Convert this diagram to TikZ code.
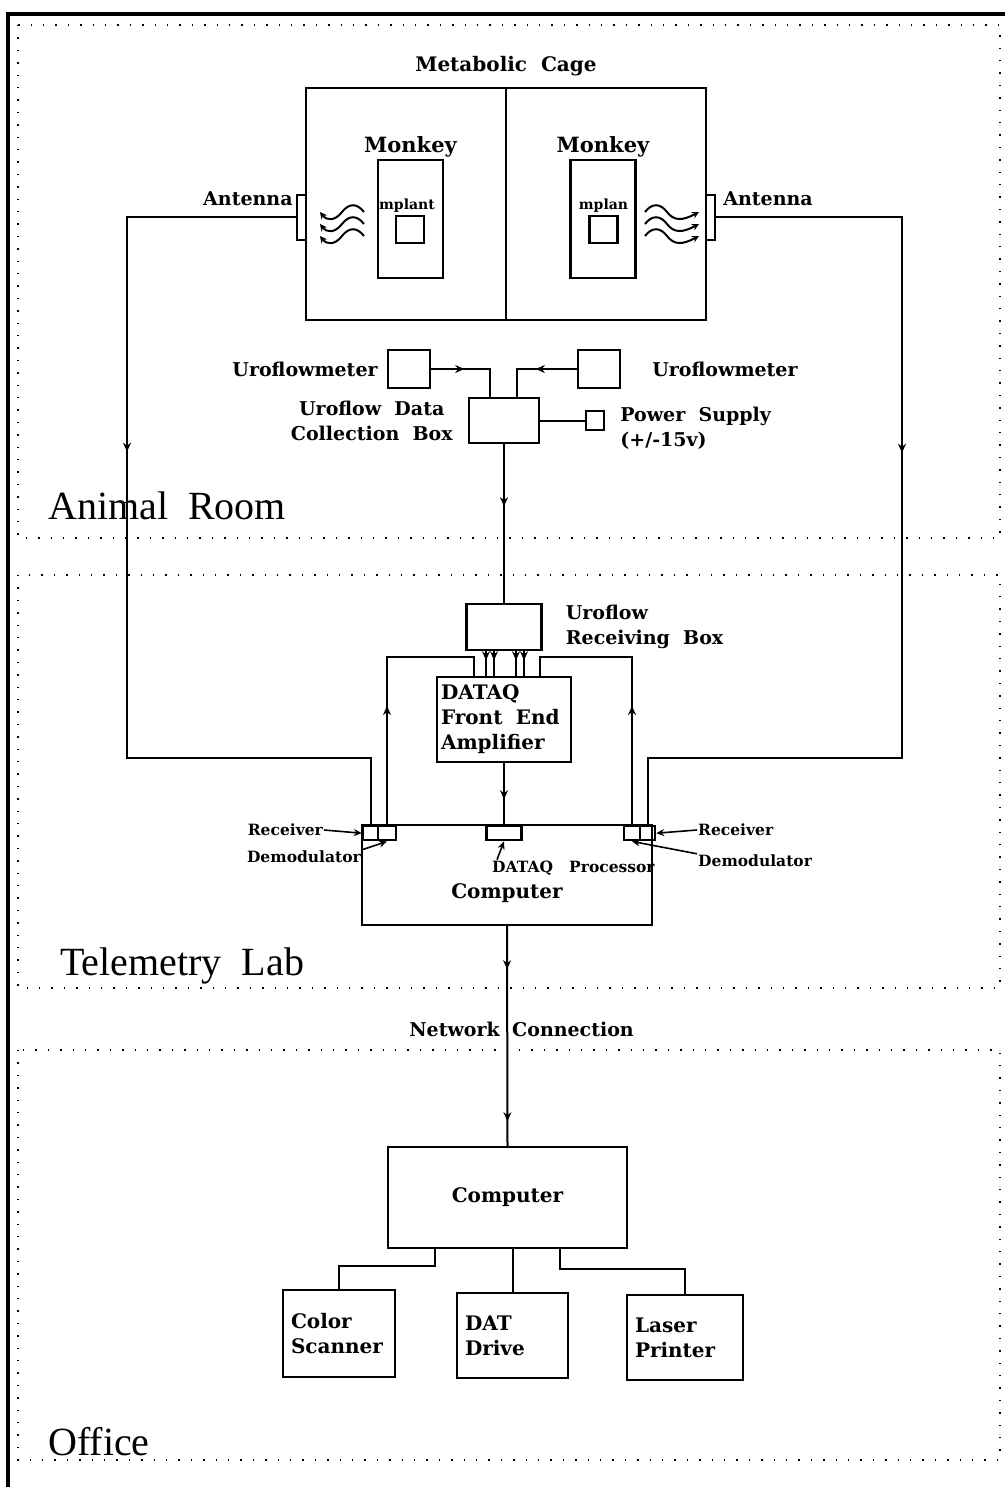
\documentclass[tikz,border=0pt]{standalone}
\usepackage{fontspec}
\setmainfont{DejaVu Serif}
\newfontfamily\roomfont{Liberation Serif}
\usetikzlibrary{positioning,arrows.meta,decorations.markings}

\tikzset{
  box/.style={draw, line width=2.4pt, inner sep=0pt, font=\bfseries\fontsize{20}{25}\selectfont},
  wire/.style={line width=2pt},
  flow/.style={postaction={decorate}, decoration={markings,
      mark=at position #1 with {\arrow{Stealth[length=9pt,width=8pt]}}}},
  lbl/.style={font=\bfseries\fontsize{19}{25}\selectfont, inner sep=1pt},
  tag/.style={font=\bfseries\fontsize{15.5}{17}\selectfont, inner sep=1pt},
  room/.style={font=\roomfont\fontsize{40}{44}\selectfont, inner sep=0pt},
  zone/.style={line width=1.4pt, dash pattern=on 1.4pt off 11pt},
  pointer/.style={line width=1.6pt, -{Stealth[length=8pt,width=7pt]}},
  wave/.style={line width=2pt, -{Stealth[length=7pt,width=7pt]}}
}

\begin{document}
\begin{tikzpicture}[x=1pt, y=-1pt]
\useasboundingbox (0,0) rectangle (1005,1487);

% frame and rooms
\draw[line width=3.5pt] (8,1487) -- (8,14) -- (1005,14);
\draw[zone] (18,25) rectangle (1000,538);
\draw[zone] (18,575) rectangle (1000,988);
\draw[zone] (18,1050) rectangle (1000,1460);
\node[room, anchor=base west] (roomA) at (48,519) {Animal\ \ Room};
\node[room, anchor=base west] (roomT) at (60,975) {Telemetry\ \ Lab};
\node[room, anchor=base west] (roomO) at (48,1455) {Office};

% metabolic cage
\node[box, minimum width=400pt, minimum height=232pt] (cage) at (506,204) {};
\draw[wire] (cage.north) -- (cage.south);
\node[lbl, font=\bfseries\fontsize{20}{25}\selectfont, above=10pt of cage] (cagelbl) {Metabolic\ \ Cage};

\node[box, minimum width=65pt, minimum height=118pt] (monkeyL) at (410.5,219) {};
\node[box, minimum width=65pt, minimum height=118pt] (monkeyR) at (603,219) {};
\node[lbl, font=\bfseries\fontsize{21}{25}\selectfont, above=0pt of monkeyL] {Monkey};
\node[lbl, font=\bfseries\fontsize{21}{25}\selectfont, above=0pt of monkeyR] {Monkey};
\node[box, minimum width=28pt, minimum height=27pt] (implantL) at (410,229.5) {};
\node[box, minimum width=28pt, minimum height=27pt] (implantR) at (603.5,229.5) {};
\node[tag, font=\bfseries\fontsize{14}{16}\selectfont, above=1pt of implantL, xshift=-3pt] {mplant};
\node[tag, font=\bfseries\fontsize{14}{16}\selectfont, above=1pt of implantR] {mplan};

\node[box, minimum width=9pt, minimum height=45pt] (antL) at (301.5,217.5) {};
\node[box, minimum width=9pt, minimum height=45pt] (antR) at (710.5,217.5) {};
\node[lbl, anchor=east, yshift=-5pt, xshift=-2pt] at (antL.north west) {Antenna};
\node[lbl, anchor=west, yshift=-5pt, xshift=6pt] at (antR.north east) {Antenna};

% radio waves
\foreach \wy in {212,224,236} {
  \draw[wave] (364,\wy) .. controls (357,\wy-9) and (349,\wy-9) .. (342,\wy)
    .. controls (335,\wy+9) and (327,\wy+9) .. (320,\wy);
  \draw[wave] (645,\wy) .. controls (652,\wy-9) and (660,\wy-9) .. (667,\wy)
    .. controls (674,\wy+9) and (682,\wy+9) .. (699,\wy);
}

% uroflow collection
\node[box, minimum width=42pt, minimum height=38pt] (uroL) at (409,369) {};
\node[box, minimum width=42pt, minimum height=38pt] (uroR) at (599,369) {};
\node[lbl, left=8pt of uroL] {Uroflowmeter};
\node[lbl, right=30pt of uroR] {Uroflowmeter};
\node[box, minimum width=70pt, minimum height=45pt] (collect) at (504,420.5) {};
\node[lbl, align=center, left=14pt of collect] {Uroflow\ \ Data\\Collection\ \ Box};
\node[box, minimum width=18pt, minimum height=19pt] (power) at (595,420.5) {};
\node[lbl, align=left, anchor=north west, xshift=14pt, yshift=4pt] at (power.north east) {Power\ \ Supply\\(+/-15v)};

\draw[wire, flow=33pt] (uroL.east) -| ([xshift=-14pt]collect.north);
\draw[wire, flow=41pt] (uroR.west) -| ([xshift=13pt]collect.north);
\draw[wire] (collect.east) -- (power.west);

% telemetry lab
\node[box, minimum width=75pt, minimum height=46pt] (recvbox) at (504,627) {};
\node[lbl, align=left, right=22pt of recvbox] {Uroflow\\Receiving\ \ Box};
\node[box, minimum width=134pt, minimum height=85pt, align=left, text width=126pt] (dataq) at (504,719.5) {DATAQ\\Front\ \ End\\Amplifier};
\node[box, minimum width=290pt, minimum height=100pt] (comp1) at (507,875) {};
\node[lbl, font=\bfseries\fontsize{20}{25}\selectfont, yshift=-18pt] at (comp1) {Computer};

\node[box, minimum width=15pt, minimum height=14pt, anchor=north] (recvL) at (370.5,825) {};
\node[box, minimum width=18pt, minimum height=14pt, anchor=north] (demodL) at (387,825) {};
\node[box, minimum width=16pt, minimum height=14pt, anchor=north] (demodR) at (632,825) {};
\node[box, minimum width=15pt, minimum height=14pt, anchor=north] (recvR) at (647.5,825) {};
\node[box, minimum width=35pt, minimum height=14pt, anchor=north] (proc) at (504,825) {};

\draw[wire, flow=62pt] (collect.south) -- (recvbox.north);
\foreach \dx in {-18,-10,12,20}
  \draw[wire, flow=9pt] ([xshift=\dx pt]recvbox.south) -- ++(0,27);
\draw[wire, flow=119pt] (demodL.north) |- (474,657) -- (474,677);
\draw[wire, flow=119pt] (demodR.north) |- (540,657) -- (540,677);
\draw[wire, flow=36pt] (dataq.south) -- (proc.north);

% antenna feeds
\draw[wire, flow=403pt] (antL.west) -| (127,758) -| (recvL.north);
\draw[wire, flow=421pt] (antR.east) -| (902,758) -| (recvR.north);

% small labels at the receivers
\node[tag, anchor=east] (recvLlbl) at (324,830) {Receiver};
\node[tag, anchor=east] (demodLlbl) at (362,857) {Demodulator};
\node[tag, anchor=west] (proclbl) at (491,868) {DATAQ\ \ \ Processor};
\node[tag, anchor=west] (recvRlbl) at (697,830) {Receiver};
\node[tag, anchor=west] (demodRlbl) at (697,861) {Demodulator};
\draw[pointer] (recvLlbl.east) -- (recvL.west);
\draw[pointer] (demodLlbl.north east) -- (demodL.south);
\draw[pointer] ([xshift=6pt]proclbl.north west) -- (proc.south);
\draw[pointer] (recvRlbl.west) -- (recvR.east);
\draw[pointer] (demodRlbl.north west) -- (demodR.south);

% network to office
\node[box, minimum width=239pt, minimum height=101pt] (comp2) at (507.5,1197.5) {Computer};
\draw[wire, postaction={decorate}, decoration={markings,
    mark=at position 43pt with {\arrow{Stealth[length=9pt,width=8pt]}},
    mark=at position 195pt with {\arrow{Stealth[length=9pt,width=8pt]}}}]
  (comp1.south) -- (comp2.north);
\node[lbl, anchor=base east] at (501,1036) {Network};
\node[lbl, anchor=base west] at (511,1036) {Connection};

% office devices
\node[box, minimum width=112pt, minimum height=87pt, align=left, text width=96pt] (scanner) at (339,1333.5) {Color\\Scanner};
\node[box, minimum width=111pt, minimum height=85pt, align=left, text width=95pt] (drive) at (512.5,1335.5) {DAT\\Drive};
\node[box, minimum width=116pt, minimum height=85pt, align=left, text width=100pt] (printer) at (685,1337.5) {Laser\\Printer};
\draw[wire] ([xshift=-72.5pt]comp2.south) -- ++(0,17) -| (scanner.north);
\draw[wire] (comp2.south -| drive.north) -- (drive.north);
\draw[wire] ([xshift=52.5pt]comp2.south) -- ++(0,20) -| (printer.north);
\end{tikzpicture}
\end{document}
